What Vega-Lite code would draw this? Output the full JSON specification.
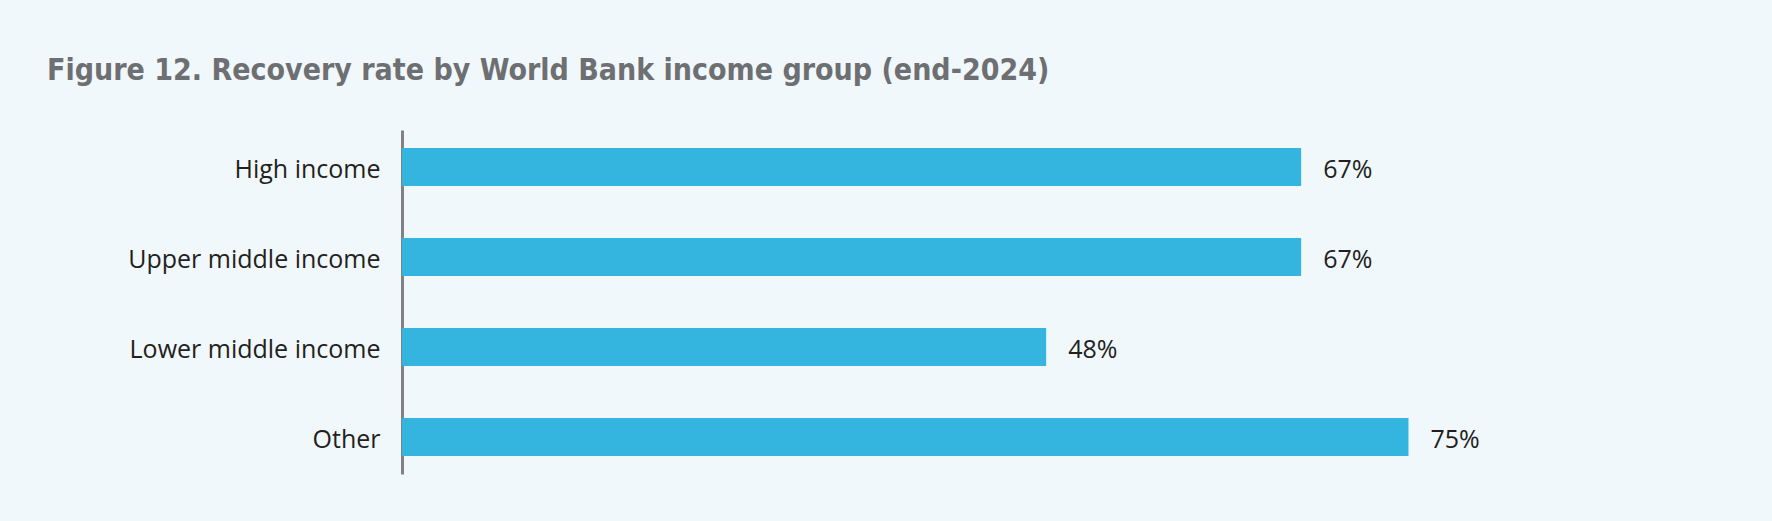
{
  "$schema": "https://vega.github.io/schema/vega-lite/v6.json",
  "width": 1342,
  "height": 344,
  "autosize": "none",
  "padding": {"left": 402, "top": 130, "right": 28, "bottom": 47},
  "background": "#F1F8FB",
  "title": {
    "text": "Figure 12. Recovery rate by World Bank income group (end-2024)",
    "anchor": "start",
    "frame": "group",
    "dx": -355,
    "offset": 44,
    "fontSize": 30,
    "font": "DejaVu Sans Condensed, sans-serif",
    "fontWeight": "bold",
    "color": "#6D6F72"
  },
  "data": {
    "values": [
      {"group": "High income", "rate": 67, "label": "67%"},
      {"group": "Upper middle income", "rate": 67, "label": "67%"},
      {"group": "Lower middle income", "rate": 48, "label": "48%"},
      {"group": "Other", "rate": 75, "label": "75%"}
    ]
  },
  "config": {"view": {"stroke": null}},
  "encoding": {
    "y": {
      "field": "group",
      "type": "nominal",
      "sort": null,
      "scale": {"paddingInner": 0.578, "paddingOuter": 0.2},
      "axis": {
        "title": null,
        "domainColor": "#808285",
        "domainWidth": 3,
        "ticks": false,
        "labelPadding": 22,
        "labelOffset": 3,
        "labelLimit": 0,
        "labelFontSize": 25,
        "labelFont": "Open Sans",
        "labelColor": "#231F20"
      }
    },
    "x": {
      "field": "rate",
      "type": "quantitative",
      "scale": {"domain": [0, 100]},
      "axis": null
    }
  },
  "layer": [
    {"mark": {"type": "bar", "color": "#33B5E0"}},
    {
      "mark": {"type": "text", "align": "left", "baseline": "middle", "dx": 22, "dy": 3, "fontSize": 25, "font": "Open Sans", "color": "#231F20"},
      "encoding": {"text": {"field": "label"}}
    }
  ]
}
